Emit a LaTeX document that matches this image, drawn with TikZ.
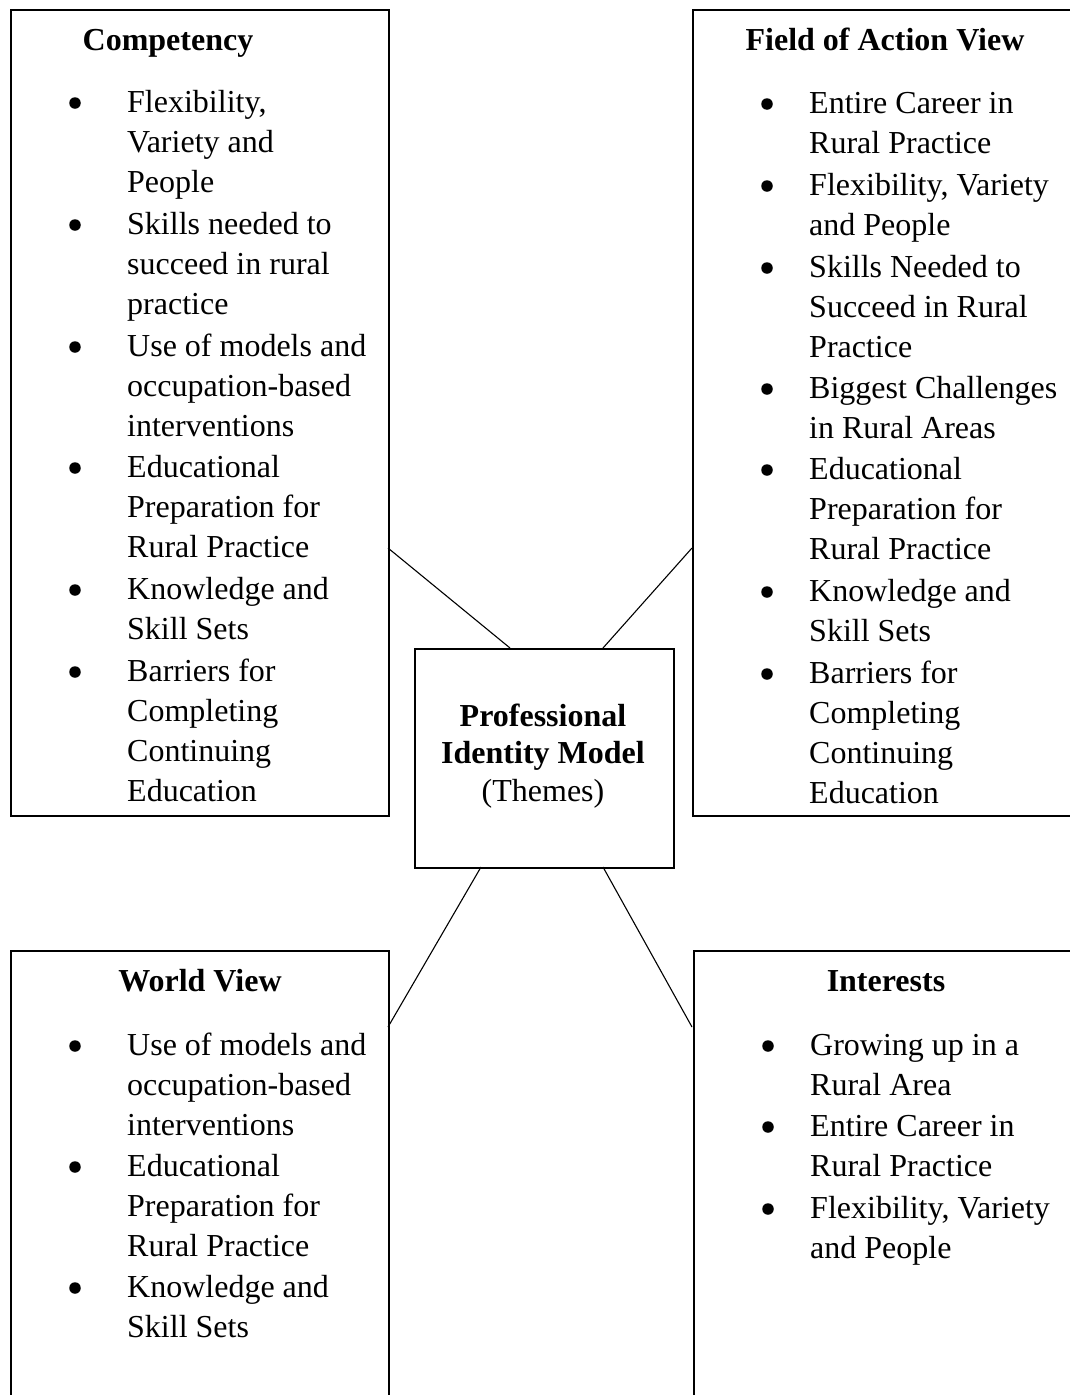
\documentclass[tikz,border=0pt]{standalone}
\usepackage{fontspec}
\setmainfont{Liberation Serif}
\tikzset{
  box/.style={draw, line width=2pt, inner sep=0pt, anchor=north west},
  txt/.style={inner sep=0pt, align=left, anchor=north west, font=\fontsize{32}{40}\selectfont},
  bul/.style={circle, fill=black, inner sep=0pt, minimum size=11.5pt},
  head/.style={inner sep=0pt, anchor=base, font=\fontsize{32}{40}\selectfont\bfseries},
  link/.style={line width=1.1pt}
}
% \myitem{name}{bullet x}{text x}{baseline y}{text}
\newcommand{\myitem}[5]{%
  \node[bul] (#1b) at (#2,#4-9) {};
  \node[txt] (#1) at (#3,#4-28) {\strut #5};
}
\begin{document}
\begin{tikzpicture}[x=1pt,y=-1pt]
\useasboundingbox (0,0) rectangle (1070,1395);
\begin{scope}
\clip (0,0) rectangle (1070,1395);
% boxes
\node[box, minimum width=377.5pt, minimum height=806pt] (comp) at (10,9) {};
\node[box, minimum width=400pt, minimum height=806pt] (field) at (692,9) {};
\node[box, minimum width=378pt, minimum height=460pt] (world) at (10,950) {};
\node[box, minimum width=400pt, minimum height=460pt] (inter) at (693,950) {};
\node[box, minimum width=259pt, minimum height=219pt] (center) at (414,648) {};
\end{scope}
% connector end points
\coordinate (p1) at (388,548);
\coordinate (q1) at (510,648);
\coordinate (p2) at (692,548);
\coordinate (q2) at (603,648);
\coordinate (p3) at (388,1027);
\coordinate (q3) at (481,867);
\coordinate (p4) at (692,1027);
\coordinate (q4) at (603,867);
\draw[link] (p1) -- (q1);
\draw[link] (p2) -- (q2);
\draw[link] (q3) -- (p3);
\draw[link] (q4) -- (p4);
% center text
\node[inner sep=0pt, align=center, anchor=north, font=\fontsize{32}{37.5}\selectfont] (ctext) at (543,700)
  {\strut\textbf{Professional}\\\textbf{Identity Model}\\(Themes)};
% Competency
\node[head] (h1) at (168,50) {Competency};
\myitem{c1}{75}{127}{112}{Flexibility,\\Variety and\\People}
\myitem{c2}{75}{127}{234}{Skills needed to\\succeed in rural\\practice}
\myitem{c3}{75}{127}{356}{Use of models and\\occupation-based\\interventions}
\myitem{c4}{75}{127}{477}{Educational\\Preparation for\\Rural Practice}
\myitem{c5}{75}{127}{599}{Knowledge and\\Skill Sets}
\myitem{c6}{75}{127}{681}{Barriers for\\Completing\\Continuing\\Education}
% Field of Action View
\node[head] (h2) at (885,50) {Field of Action View};
\myitem{f1}{767}{809}{113}{Entire Career in\\Rural Practice}
\myitem{f2}{767}{809}{195}{Flexibility, Variety\\and People}
\myitem{f3}{767}{809}{277}{Skills Needed to\\Succeed in Rural\\Practice}
\myitem{f4}{767}{809}{398}{Biggest Challenges\\in Rural Areas}
\myitem{f5}{767}{809}{479}{Educational\\Preparation for\\Rural Practice}
\myitem{f6}{767}{809}{601}{Knowledge and\\Skill Sets}
\myitem{f7}{767}{809}{683}{Barriers for\\Completing\\Continuing\\Education}
% World View
\node[head] (h3) at (200,991) {World View};
\myitem{w1}{75}{127}{1055}{Use of models and\\occupation-based\\interventions}
\myitem{w2}{75}{127}{1176}{Educational\\Preparation for\\Rural Practice}
\myitem{w3}{75}{127}{1297}{Knowledge and\\Skill Sets}
% Interests
\node[head] (h4) at (886,991) {Interests};
\myitem{i1}{768}{810}{1055}{Growing up in a\\Rural Area}
\myitem{i2}{768}{810}{1136}{Entire Career in\\Rural Practice}
\myitem{i3}{768}{810}{1218}{Flexibility, Variety\\and People}
\end{tikzpicture}
\end{document}
